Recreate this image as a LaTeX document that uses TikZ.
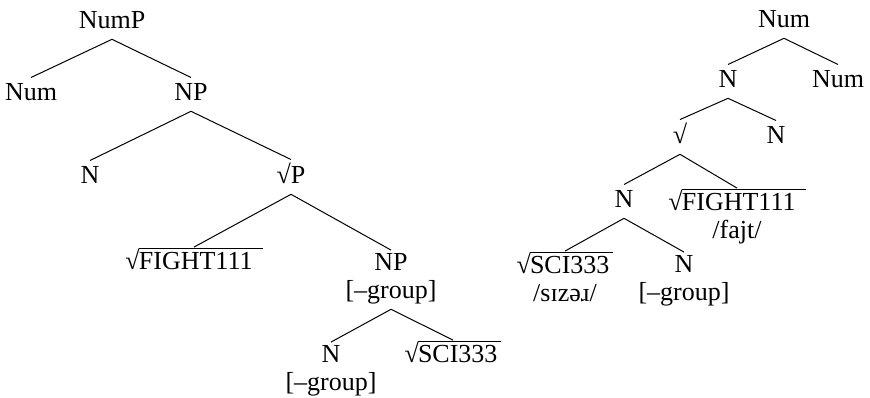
\documentclass[tikz,border=0pt]{standalone}
\usepackage{fontspec}
\setmainfont{Liberation Serif}
\newsavebox\radtextbox
\newcommand{\rootof}[2][2pt]{\sbox\radtextbox{#2\kern#1}√\kern-0.4pt\rlap{\rule[0.79em]{\wd\radtextbox}{0.45pt}}\usebox\radtextbox}
\begin{document}
\begin{tikzpicture}[x=0.5pt, y=-0.5pt, line width=0.5pt,
  tree node/.style={anchor=base, inner sep=1.2pt, align=center, font=\fontsize{13}{14}\selectfont, execute at begin node=\strut, execute at end node=\strut},
  root node/.style={tree node, inner ysep=0pt}]
\useasboundingbox (0,0) rectangle (870,397);
% two-line nodes sit on the baseline of their lower line
\begin{scope}[every node/.style={tree node}]
\node (numP) at (112,28) {NumP};
\node (numA) at (31,100) {Num};
\node (np) at (191,100) {NP};
\node (nA) at (90,183) {N};
\node (rootP) at (291,183) {√P};
\node[root node] (fightA) at (194,269) {\rootof[5pt]{FIGHT111}};
\node (npG) at (391,298) {NP\\{[}–group]};
\node (nG) at (331,390) {N\\{[}–group]};
\node[root node] (sciA) at (453,362) {\rootof{SCI333}};
\node (numB) at (784,27) {Num};
\node (nB) at (728,87) {N};
\node (numC) at (838,87) {Num};
\node (rootB) at (680,143) {√};
\node (nC) at (776,143) {N};
\node (nD) at (624,207) {N};
\node[root node] (fightB) at (737,238) {\rootof[5pt]{FIGHT111}\\/fajt/};
\node[root node] (sciB) at (565,301) {\rootof{SCI333}\\/sɪzəɹ/};
\node (nE) at (684,300) {N\\{[}–group]};
\end{scope}
\begin{scope}[every edge/.style={draw=black,line width=0.5pt}]
\draw (numP.south) edge (numA.north);
\draw (numP.south) edge (np.north);
\draw (np.south) edge (nA.north);
\draw (np.south) edge (rootP.north);
\draw (rootP.south) edge (fightA.north);
\draw (rootP.south) edge (npG.north);
\draw (npG.south) edge (nG.north);
\draw (npG.south) edge (sciA.north);
\draw (numB.south) edge (nB.north);
\draw (numB.south) edge (numC.north);
\draw (nB.south) edge (rootB.north);
\draw (nB.south) edge (nC.north);
\draw (rootB.south) edge (nD.north);
\draw (rootB.south) edge (fightB.north);
\draw (nD.south) edge (sciB.north);
\draw (nD.south) edge (nE.north);
\end{scope}
\end{tikzpicture}
\end{document}
